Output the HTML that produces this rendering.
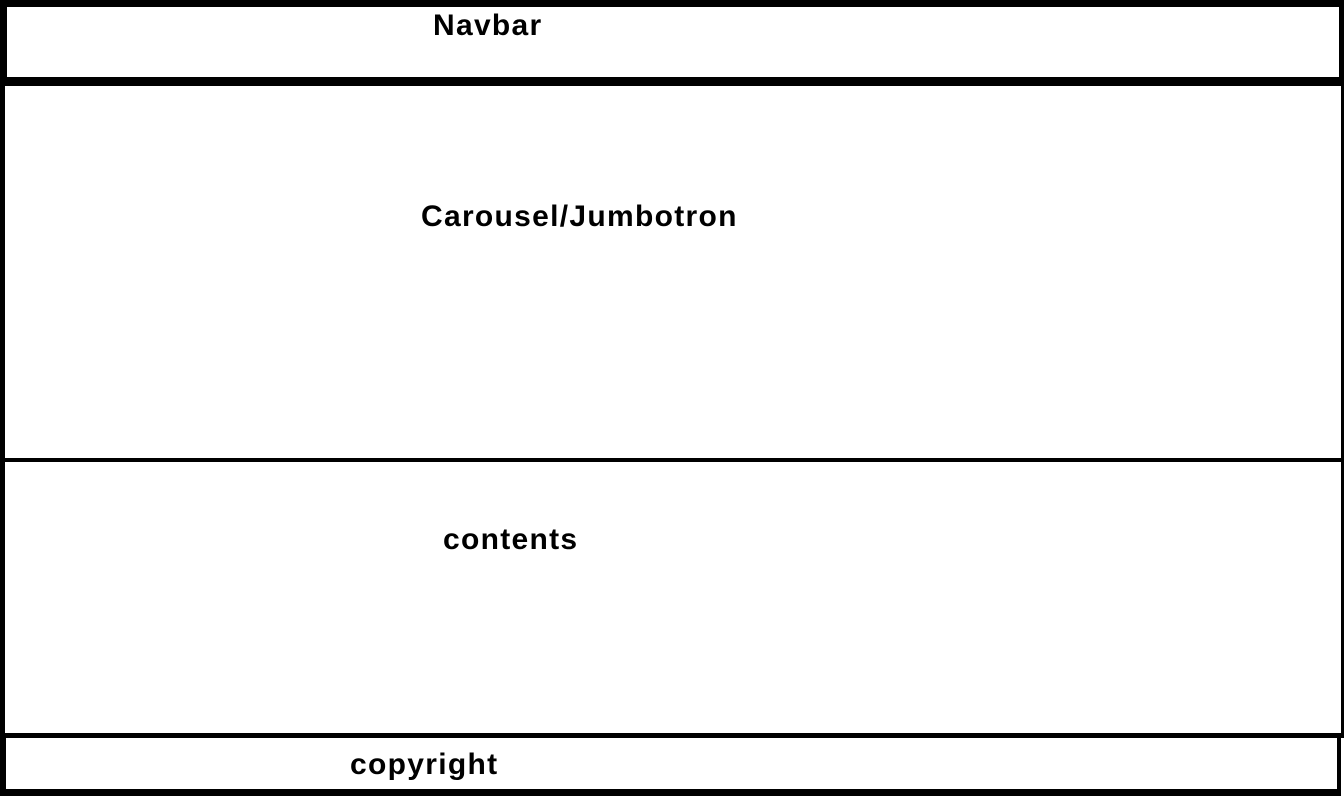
<!DOCTYPE html>
<html><head><style>
html,body{margin:0;padding:0;width:1344px;height:796px;background:#fff;overflow:hidden;position:relative;font-family:"Liberation Sans",sans-serif;font-weight:bold;}
.b{position:absolute;background:#000;}
.t{position:absolute;font-size:30px;color:#000;white-space:nowrap;line-height:1;letter-spacing:1.3px;}
</style></head><body>
<div class="b" style="left:0;top:0;width:1344px;height:7px"></div>
<div class="b" style="left:0;top:0;width:7px;height:86px"></div>
<div class="b" style="left:1339px;top:0;width:5px;height:86px"></div>
<div class="b" style="left:0;top:77px;width:1344px;height:9px"></div>
<div class="b" style="left:0;top:86px;width:5px;height:710px"></div>
<div class="b" style="left:1341px;top:86px;width:3px;height:652px"></div>
<div class="b" style="left:0;top:458px;width:1344px;height:4px"></div>
<div class="b" style="left:0;top:733px;width:1344px;height:5px"></div>
<div class="b" style="left:0;top:733px;width:6px;height:63px"></div>
<div class="b" style="left:1337px;top:733px;width:4px;height:63px"></div>
<div class="b" style="left:0;top:789px;width:1341px;height:7px"></div>
<div class="t" style="left:433px;top:11px">Navbar</div>
<div class="t" style="left:421px;top:202px">Carousel/Jumbotron</div>
<div class="t" style="left:443px;top:525px">contents</div>
<div class="t" style="left:350px;top:750px">copyright</div>
</body></html>
